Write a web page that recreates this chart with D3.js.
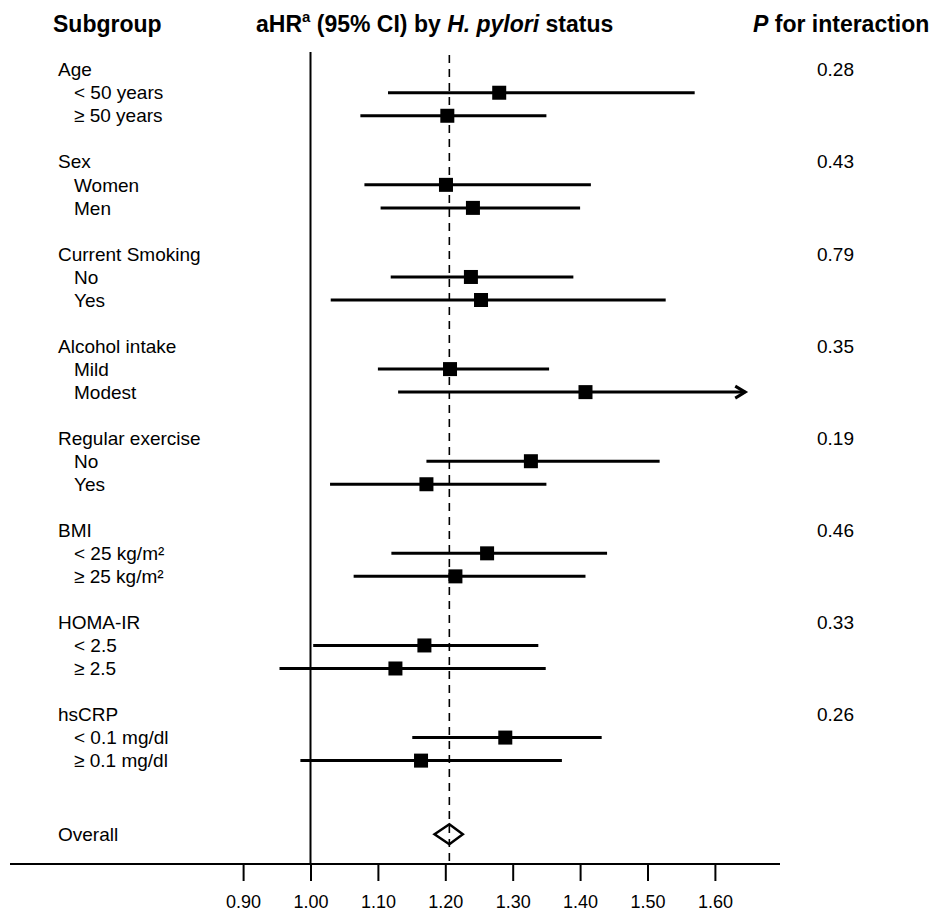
<!DOCTYPE html>
<html>
<head>
<meta charset="utf-8">
<script src="https://cdn.jsdelivr.net/npm/d3@7"></script>
<style>
    body { margin: 0; background: #fff; }
    text { font-family: "Liberation Sans", Arial, sans-serif; fill: #000; }
</style>
</head>
<body>
<div id="grafico"></div>
<script>
// subgroup headers and their P for interaction
var groups = ["Age", "Sex", "Current Smoking", "Alcohol intake", "Regular exercise", "BMI", "HOMA-IR", "hsCRP"];
var pInteraction = ["0.28", "0.43", "0.79", "0.35", "0.19", "0.46", "0.33", "0.26"];

// two levels per group, in order
var subgroups = ["< 50 years", "\u2265 50 years", "Women", "Men", "No", "Yes", "Mild", "Modest",
    "No", "Yes", "< 25 kg/m\u00b2", "\u2265 25 kg/m\u00b2", "< 2.5", "\u2265 2.5", "< 0.1 mg/dl", "\u2265 0.1 mg/dl"];
var hr    = [1.280, 1.203, 1.201, 1.241, 1.238, 1.253, 1.207, 1.408, 1.327, 1.172, 1.262, 1.215, 1.169, 1.126, 1.289, 1.164];
var lower = [1.115, 1.074, 1.080, 1.104, 1.119, 1.030, 1.100, 1.130, 1.172, 1.029, 1.120, 1.064, 1.004, 0.954, 1.151, 0.985];
var upper = [1.570, 1.350, 1.416, 1.400, 1.390, 1.527, 1.354, 1.760, 1.518, 1.350, 1.440, 1.408, 1.338, 1.349, 1.432, 1.373];

// overall: hr, lower, upper
var overall = [1.206, 1.184, 1.226];

var tickValues = [0.90, 1.00, 1.10, 1.20, 1.30, 1.40, 1.50, 1.60];
var arrowCap = 1.645;   // CIs past this are drawn as an arrow

var W = 936, H = 912;
var axisY = 864;
var labelX = 58, subX = 74, pX = 817;

var svg = d3.select("#grafico").append("svg")
    .attr("width", W)
    .attr("height", H);

var x = d3.scaleLinear().domain([0.90, 1.60]).range([243.1, 714.9]);
var y = d3.scaleLinear().domain([0, 33]).range([69.7, 829.7]);

// rows: header, level 1, level 2, blank
var rows = [];
groups.forEach(function(g, i) {
    rows.push({ idx: i * 4, label: g, sub: false, p: pInteraction[i] });
    for (var k = 0; k < 2; k++) {
        var j = i * 2 + k;
        rows.push({ idx: i * 4 + 1 + k, label: subgroups[j], sub: true, hr: hr[j], lo: lower[j], hi: upper[j] });
    }
});

// column headers
svg.append("text")
    .attr("x", 53).attr("y", 32)
    .style("font", "bold 23px 'Liberation Sans', Arial, sans-serif")
    .text("Subgroup");

var mid = svg.append("text")
    .attr("x", 256).attr("y", 32)
    .style("font", "bold 23px 'Liberation Sans', Arial, sans-serif");
mid.append("tspan").text("aHR");
mid.append("tspan").attr("dy", -10).style("font-size", "15px").text("a");
mid.append("tspan").attr("dy", 10).text(" (95% CI) by ");
mid.append("tspan").style("font-style", "italic").text("H. pylori");
mid.append("tspan").text(" status");

var pHead = svg.append("text")
    .attr("x", 753).attr("y", 32)
    .style("font", "bold 23px 'Liberation Sans', Arial, sans-serif");
pHead.append("tspan").style("font-style", "italic").text("P");
pHead.append("tspan").text(" for interaction");

// reference lines
svg.append("line")
    .attr("x1", x(1)).attr("x2", x(1))
    .attr("y1", 52).attr("y2", axisY)
    .attr("stroke", "#000").attr("stroke-width", 2);

svg.append("line")
    .attr("x1", x(overall[0])).attr("x2", x(overall[0]))
    .attr("y1", 55).attr("y2", axisY)
    .attr("stroke", "#000").attr("stroke-width", 1.6)
    .attr("stroke-dasharray", "8,6");

// row labels
svg.selectAll(".lbl")
    .data(rows)
    .enter().append("text")
    .attr("class", "lbl")
    .attr("x", function(d) { return d.sub ? subX : labelX; })
    .attr("y", function(d) { return y(d.idx); })
    .attr("dy", "0.35em")
    .style("font-size", "19px")
    .text(function(d) { return d.label; });

svg.selectAll(".pval")
    .data(rows.filter(function(d) { return !d.sub; }))
    .enter().append("text")
    .attr("class", "pval")
    .attr("x", pX)
    .attr("y", function(d) { return y(d.idx); })
    .attr("dy", "0.35em")
    .style("font-size", "19px")
    .text(function(d) { return d.p; });

// CIs and point estimates
var est = rows.filter(function(d) { return d.sub; });

svg.selectAll(".ci")
    .data(est)
    .enter().append("line")
    .attr("class", "ci")
    .attr("x1", function(d) { return x(d.lo); })
    .attr("x2", function(d) { return x(Math.min(d.hi, arrowCap)); })
    .attr("y1", function(d) { return y(d.idx); })
    .attr("y2", function(d) { return y(d.idx); })
    .attr("stroke", "#000").attr("stroke-width", 3);

svg.selectAll(".arrow")
    .data(est.filter(function(d) { return d.hi > arrowCap; }))
    .enter().append("path")
    .attr("class", "arrow")
    .attr("d", function(d) {
        var ax = x(arrowCap), ay = y(d.idx);
        return "M" + (ax - 10) + "," + (ay - 6) + "L" + ax + "," + ay + "L" + (ax - 10) + "," + (ay + 6);
    })
    .attr("fill", "none").attr("stroke", "#000").attr("stroke-width", 3);

var sq = 14;
svg.selectAll(".pt")
    .data(est)
    .enter().append("rect")
    .attr("class", "pt")
    .attr("x", function(d) { return x(d.hr) - sq / 2; })
    .attr("y", function(d) { return y(d.idx) - sq / 2; })
    .attr("width", sq).attr("height", sq)
    .attr("fill", "#000");

// overall
var oy = y(33.2);
svg.append("text")
    .attr("x", labelX).attr("y", oy)
    .attr("dy", "0.35em")
    .style("font-size", "19px")
    .text("Overall");

svg.append("path")
    .attr("d", "M" + x(overall[1]) + "," + oy +
        "L" + x(overall[0]) + "," + (oy - 10) +
        "L" + x(overall[2]) + "," + oy +
        "L" + x(overall[0]) + "," + (oy + 10) + "Z")
    .attr("fill", "none").attr("stroke", "#000").attr("stroke-width", 2.5);

// x axis
svg.append("line")
    .attr("x1", 10).attr("x2", 780)
    .attr("y1", axisY).attr("y2", axisY)
    .attr("stroke", "#000").attr("stroke-width", 2);

var axis = svg.append("g")
    .attr("transform", "translate(0," + axisY + ")")
    .call(d3.axisBottom(x)
        .tickValues(tickValues)
        .tickFormat(d3.format(".2f"))
        .tickSize(17)
        .tickPadding(14.5));
axis.select(".domain").remove();
axis.selectAll(".tick line").attr("stroke", "#000").attr("stroke-width", 2);
axis.selectAll(".tick text")
    .attr("fill", "#000")
    .style("font-family", "'Liberation Sans', Arial, sans-serif")
    .style("font-size", "18px");
</script>
</body>
</html>
